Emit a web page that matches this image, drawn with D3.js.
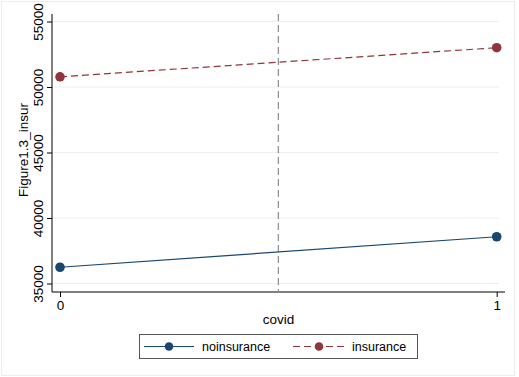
<!DOCTYPE html>
<html>
<head>
<meta charset="utf-8">
<script src="https://cdn.jsdelivr.net/npm/d3@7"></script>
<style>
  body { margin: 0; background: #fff; }
  text { font-family: "Liberation Sans", Arial, Helvetica, sans-serif; fill: #000; }
</style>
</head>
<body>
<svg id="chart" width="519" height="377"></svg>
<script>
// data
var covid = [0, 1];
var noinsurance = [36240, 38570];
var insurance = [50780, 53000];
var yTicks = [35000, 40000, 45000, 50000, 55000];
var seriesNames = ['noinsurance', 'insurance'];

var navy = '#1a476f';
var maroon = '#90353b';

var svg = d3.select('#chart');

// outer graph region frame
svg.append('rect')
  .attr('x', 1.5).attr('y', 1.5)
  .attr('width', 513).attr('height', 374)
  .attr('fill', '#fff')
  .attr('stroke', '#ececec');

var x = d3.scaleLinear().domain([0, 1]).range([60, 496.7]);
var y = d3.scaleLinear().domain([35000, 55000]).range([283.5, 21.5]);

var plotLeft = 52, plotRight = 505, plotTop = 14, plotBottom = 292;

// gridlines
svg.append('g')
  .selectAll('line')
  .data(yTicks)
  .enter()
  .append('line')
  .attr('x1', plotLeft)
  .attr('x2', plotRight - 6)
  .attr('y1', d => y(d))
  .attr('y2', d => y(d))
  .attr('stroke', '#eeeeee')
  .attr('stroke-width', 1);

// y axis
var yAxis = d3.axisLeft(y).tickValues(yTicks).tickSize(5).tickPadding(3).tickFormat(d3.format('d'));
var gy = svg.append('g')
  .attr('transform', 'translate(' + plotLeft + ',0)')
  .call(yAxis);
gy.select('.domain').remove();
gy.append('line')
  .attr('x1', 0).attr('x2', 0)
  .attr('y1', plotTop).attr('y2', plotBottom)
  .attr('stroke', '#000').attr('stroke-width', 1);
gy.selectAll('.tick line').attr('stroke', '#000');
gy.selectAll('.tick text')
  .attr('x', 0).attr('dy', 0)
  .attr('transform', 'translate(-9,0) rotate(-90)')
  .attr('text-anchor', 'middle')
  .style('font-size', '13.5px')
  .style('font-family', '"Liberation Sans", Arial, sans-serif')
  .attr('fill', '#000');

// x axis
var xAxis = d3.axisBottom(x).tickValues(covid).tickSize(5).tickPadding(3).tickFormat(d3.format('d'));
var gx = svg.append('g')
  .attr('transform', 'translate(0,' + plotBottom + ')')
  .call(xAxis);
gx.select('.domain').remove();
gx.append('line')
  .attr('x1', plotLeft).attr('x2', plotRight)
  .attr('y1', 0).attr('y2', 0)
  .attr('stroke', '#000').attr('stroke-width', 1);
gx.selectAll('.tick line').attr('stroke', '#000');
gx.selectAll('.tick text')
  .attr('dy', '0.71em')
  .style('font-size', '13.5px')
  .style('font-family', '"Liberation Sans", Arial, sans-serif')
  .attr('fill', '#000');

// axis titles
svg.append('text')
  .attr('transform', 'translate(28,150) rotate(-90)')
  .attr('text-anchor', 'middle')
  .style('font-size', '13.5px')
  .text('Figure1.3_insur');

svg.append('text')
  .attr('x', 278.5)
  .attr('y', 324)
  .attr('text-anchor', 'middle')
  .style('font-size', '13.5px')
  .text('covid');

// vertical reference line at covid = 0.5
svg.append('line')
  .attr('x1', x(0.5)).attr('x2', x(0.5))
  .attr('y1', plotTop).attr('y2', plotBottom)
  .attr('stroke', '#8c8c8c')
  .attr('stroke-width', 1.2)
  .attr('stroke-dasharray', '7,4');

// series
var line = d3.line()
  .x((d, i) => x(covid[i]))
  .y(d => y(d));

svg.append('path')
  .datum(noinsurance)
  .attr('d', line)
  .attr('fill', 'none')
  .attr('stroke', navy)
  .attr('stroke-width', 1.2);

svg.append('path')
  .datum(insurance)
  .attr('d', line)
  .attr('fill', 'none')
  .attr('stroke', maroon)
  .attr('stroke-width', 1.2)
  .attr('stroke-dasharray', '7,4');

[[noinsurance, navy], [insurance, maroon]].forEach(function (s) {
  svg.append('g')
    .selectAll('circle')
    .data(s[0])
    .enter()
    .append('circle')
    .attr('cx', (d, i) => x(covid[i]))
    .attr('cy', d => y(d))
    .attr('r', 4.8)
    .attr('fill', s[1]);
});

// legend
var legend = svg.append('g');
legend.append('rect')
  .attr('x', 139.5).attr('y', 334.5)
  .attr('width', 278).attr('height', 24)
  .attr('fill', '#fff')
  .attr('stroke', '#555')
  .attr('stroke-width', 1);

var items = [
  { name: seriesNames[0], color: navy, dash: null, x0: 144, x1: 194, tx: 202 },
  { name: seriesNames[1], color: maroon, dash: '7,4', x0: 293, x1: 345, tx: 352 }
];
items.forEach(function (it) {
  legend.append('line')
    .attr('x1', it.x0).attr('x2', it.x1)
    .attr('y1', 346.5).attr('y2', 346.5)
    .attr('stroke', it.color)
    .attr('stroke-width', 1.2)
    .attr('stroke-dasharray', it.dash);
  legend.append('circle')
    .attr('cx', (it.x0 + it.x1) / 2)
    .attr('cy', 346.5)
    .attr('r', 4.3)
    .attr('fill', it.color);
  legend.append('text')
    .attr('x', it.tx)
    .attr('y', 351)
    .style('font-size', '12.5px')
    .text(it.name);
});
</script>
</body>
</html>
